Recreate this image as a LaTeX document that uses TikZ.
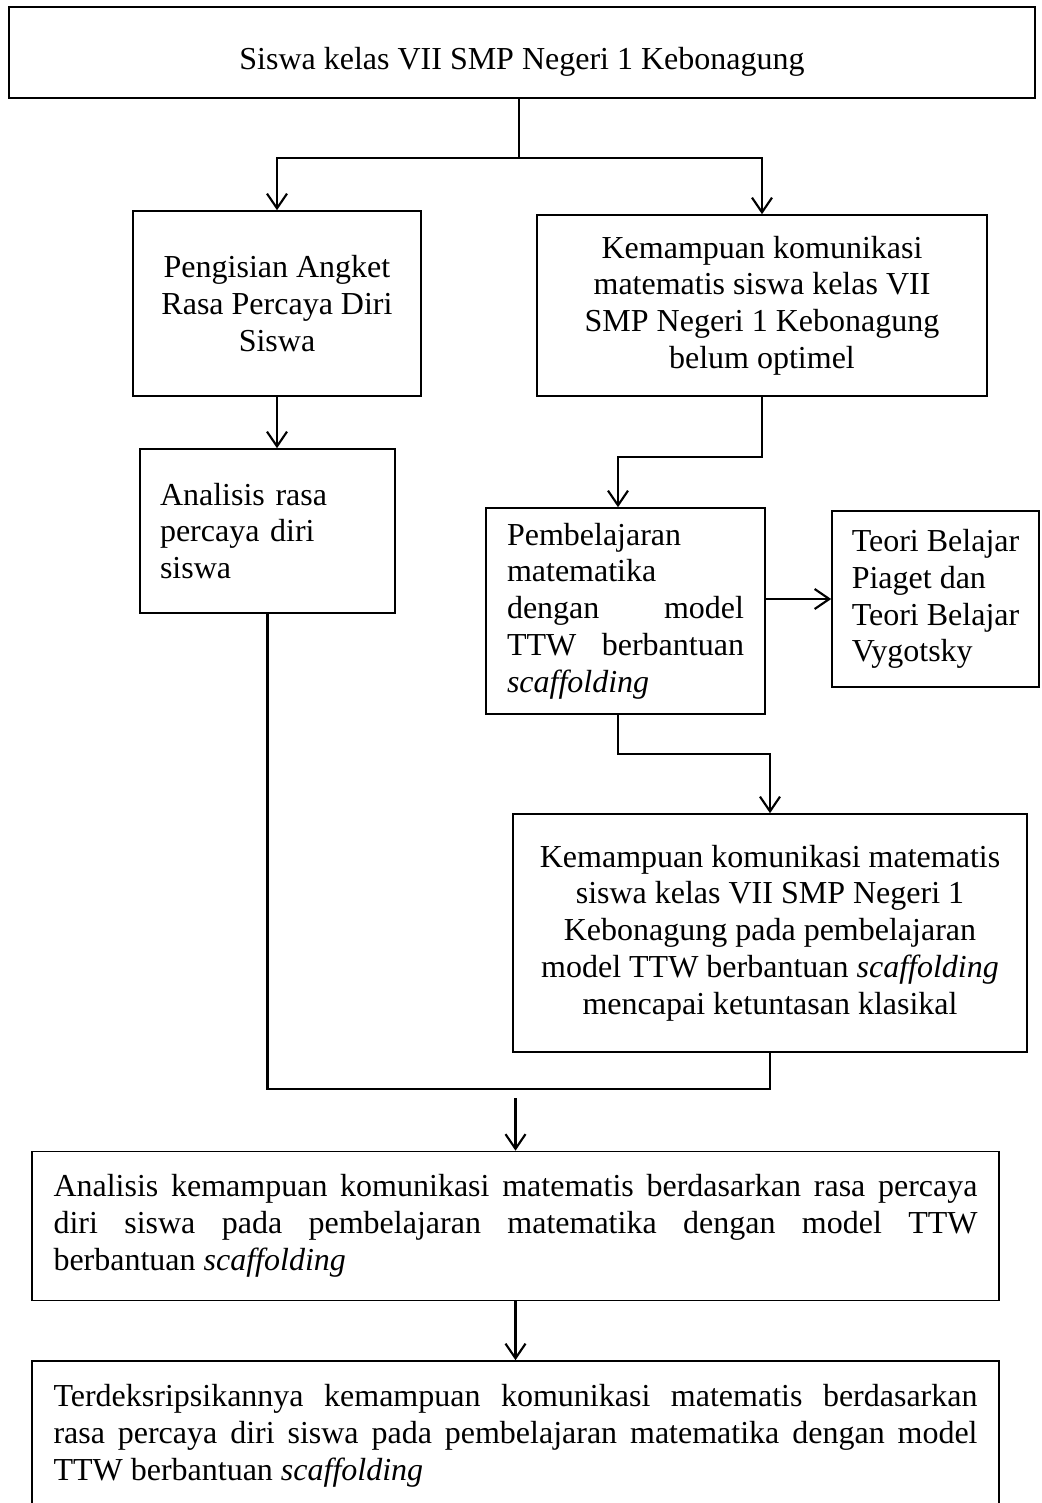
\documentclass[tikz,border=0pt]{standalone}
\usepackage{fontspec}
\setmainfont{Liberation Serif}
\usetikzlibrary{arrows.meta}
\hyphenpenalty=10000

\begin{document}
\begin{tikzpicture}[
  x=0.375pt, y=-0.375pt,
  font=\fontsize{12}{13.8}\selectfont,
  kotak/.style={draw, line width=0.6pt, inner sep=0pt, align=center},
  garis/.style={line width=0.8pt},
  panah/.style={garis, -{Straight Barb[length=5.5pt, width=7.5pt]}}
]
\useasboundingbox (0,0) rectangle (1041,1503);

% ---- Subjek ----
\node[kotak, minimum width=384.75pt, minimum height=34.125pt,
  text height=14pt, text depth=1pt] (siswa) at (522,52.5)
  {Siswa kelas VII SMP Negeri 1 Kebonagung};

% ---- Cabang kiri ----
\node[kotak, minimum width=108pt, minimum height=69.375pt] (angket) at (277,303.5)
  {Pengisian Angket\\ Rasa Percaya Diri\\ Siswa};

\node[kotak, align=left, text width=80.625pt, inner xsep=7.5pt,
  minimum height=61.5pt] (analisis) at (267.5,531)
  {Analisis rasa\\ percaya diri\\ siswa};

% ---- Cabang kanan ----
\node[kotak, minimum width=168.75pt, minimum height=67.875pt] (masalah) at (762,305.5)
  {Kemampuan komunikasi\\ matematis siswa kelas VII\\ SMP Negeri 1 Kebonagung\\ belum optimel};

\node[kotak, align=justify, text width=88.875pt, inner xsep=7.875pt,
  minimum height=77.25pt] (ttw) at (625.5,611)
  {Pembelajaran\\ matematika\\ dengan model\linebreak TTW berbantuan\linebreak \textit{scaffolding}};

\node[kotak, align=left, minimum width=77.625pt, minimum height=66pt] (teori) at (935.5,599)
  {Teori Belajar\\ Piaget dan\\ Teori Belajar\\ Vygotsky};

\node[kotak, minimum width=192.75pt, minimum height=89.25pt] (hasil) at (770,933)
  {Kemampuan komunikasi matematis\\ siswa kelas VII SMP Negeri 1\\ Kebonagung pada pembelajaran\\
   model TTW berbantuan \textit{scaffolding}\\ mencapai ketuntasan klasikal};

% ---- Analisis dan hasil akhir ----
\node[kotak, align=justify, text width=346.5pt, inner xsep=8.0625pt,
  minimum height=55.875pt] (analisa) at (515.5,1226)
  {Analisis kemampuan komunikasi matematis berdasarkan rasa percaya\linebreak
   diri siswa pada pembelajaran matematika dengan model TTW\linebreak
   berbantuan \textit{scaffolding}};

\node[kotak, align=justify, text width=346.5pt, inner xsep=8.0625pt,
  minimum height=55.875pt] (deskripsi) at (515.5,1435.5)
  {Terdeksripsikannya kemampuan komunikasi matematis berdasarkan\linebreak
   rasa percaya diri siswa pada pembelajaran matematika dengan model\linebreak
   TTW berbantuan \textit{scaffolding}};

% titik belok
\coordinate (cabang) at (519,158);
\coordinate (b1) at (618,457);
\coordinate (b2) at (618,754);
\coordinate (gabung) at (515.5,1089);
\coordinate (g2) at (515.5,1098);

% Panah
\draw[garis] (siswa.south -| cabang) -- (cabang);
\draw[panah] (cabang) -| (angket.north);
\draw[panah] (cabang) -| (masalah.north);

\draw[panah] (angket.south) -- (angket.south |- analisis.north);

\draw[panah] (masalah.south) |- (b1) -- (b1 |- ttw.north);
\draw[panah] (teori.west -| ttw.east) -- (teori.west);
\draw[panah] (ttw.south -| b2) -- (b2) -| (hasil.north);

\draw[garis] (analisis.south) |- (gabung) -| (hasil.south);
\draw[panah] (g2) -- (analisa.north);
\draw[panah] (analisa.south) -- (deskripsi.north);

\end{tikzpicture}
\end{document}
